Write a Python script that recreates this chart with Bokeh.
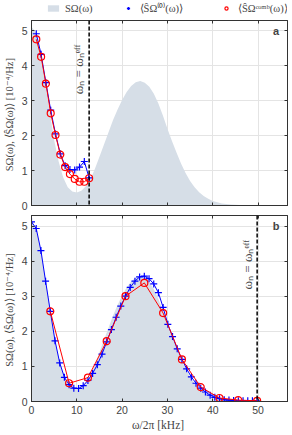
import math
from bokeh.plotting import figure
from bokeh.layouts import column
from bokeh.models import Range1d, Span, Label, Legend, LegendItem, FixedTicker, LinearAxis
from bokeh.embed import file_html
from bokeh.resources import INLINE

# ---- data ----
s_freq = [0, 1, 2, 3, 4, 5, 6, 7, 8, 9, 10, 11, 12, 13, 14, 15, 16, 17, 18, 19,
          20, 21, 22, 23, 24, 25, 26, 27, 28, 29, 30, 31, 32, 33, 34, 35, 36, 37,
          38, 39, 40, 41, 42, 43, 44, 45, 46, 47, 48, 49, 50, 52, 54, 56.5]
s_vals = [5.12, 4.95, 4.35, 3.55, 2.70, 1.88, 1.25, 0.80, 0.52, 0.40, 0.37, 0.42,
          0.55, 0.75, 1.05, 1.40, 1.75, 2.10, 2.45, 2.75, 3.02, 3.25, 3.42, 3.53,
          3.57, 3.52, 3.40, 3.20, 2.92, 2.58, 2.20, 1.85, 1.52, 1.20, 0.93, 0.70,
          0.52, 0.38, 0.27, 0.19, 0.13, 0.09, 0.06, 0.04, 0.03, 0.02, 0.015, 0.01,
          0.01, 0.005, 0.0, 0.0, 0.0, 0.0]

a_freq = [1.06, 2.12, 3.18, 4.24, 5.30, 6.36, 7.42, 8.48, 9.54, 10.60, 11.66, 12.72]
a_blue = [4.92, 4.33, 3.52, 2.73, 2.05, 1.48, 1.14, 1.03, 1.02, 1.10, 1.26, 0.79]
a_red = [4.76, 4.26, 3.49, 2.64, 2.02, 1.46, 1.10, 0.90, 0.76, 0.68, 0.68, 0.78]
a_wn = 12.72

b_blue_freq = [0, 1.04, 2.08, 3.11, 4.15, 5.19, 6.23, 7.26, 8.3, 9.34, 10.38, 11.41,
               12.45, 13.49, 14.53, 15.56, 16.6, 17.64, 18.68, 19.71, 20.75, 21.79,
               22.83, 23.86, 24.9, 25.94, 26.98, 28.01, 29.05, 30.09, 31.13, 32.16,
               33.2, 34.24, 35.28, 36.31, 37.35, 38.39, 39.43, 40.46, 41.5, 42.54,
               43.58, 44.61, 45.65, 46.69, 47.73, 48.76, 49.8]
b_blue = [5.12, 4.93, 4.30, 3.43, 2.57, 1.73, 1.10, 0.69, 0.48, 0.38, 0.37, 0.45,
          0.60, 0.80, 1.05, 1.35, 1.70, 2.05, 2.40, 2.72, 3.00, 3.25, 3.43, 3.55,
          3.57, 3.50, 3.35, 3.10, 2.68, 2.20, 1.85, 1.50, 1.20, 0.93, 0.70, 0.52,
          0.38, 0.27, 0.18, 0.12, 0.08, 0.05, 0.04, 0.03, 0.02, 0.02, 0.02, 0.02, 0.02]
b_red_freq = [4.15, 8.3, 12.45, 16.6, 20.75, 24.9, 29.05, 33.2, 37.35, 41.5, 45.65, 49.8]
b_red = [2.57, 0.52, 0.68, 1.72, 3.00, 3.38, 2.52, 1.20, 0.41, 0.10, 0.04, 0.02]
b_wn = 49.8

x_ticks = [0, 10, 20, 30, 40, 50]
y_ticks = [0, 1, 2, 3, 4, 5]

FILL = "#d6dee7"
BLUE = "#0000ff"
RED = "#ff0000"
AXC = "#333333"
SERIF = "Liberation Serif"
SANS = "Liberation Sans"
YLABEL = "SΩ(ω),  ⟨ŜΩ(ω)⟩  [10⁻⁴/Hz]"


def blank_axis(ticks):
    ax = LinearAxis(ticker=FixedTicker(ticks=ticks),
                    major_label_overrides={t: "" for t in ticks},
                    major_label_standoff=0, major_tick_in=3, major_tick_out=0,
                    minor_tick_line_color=None, axis_line_color=AXC,
                    major_tick_line_color=AXC, major_label_text_font_size="1px")
    return ax


def make_panel(height, top, bottom, show_x):
    p = figure(width=292, height=height, output_backend="svg", toolbar_location=None,
               x_range=Range1d(0, 56.5), y_range=Range1d(0, 5.3),
               x_axis_location="below" if show_x else None,
               min_border_left=29, min_border_right=5,
               min_border_top=top, min_border_bottom=bottom)
    p.background_fill_color = "white"
    p.border_fill_color = "white"
    p.outline_line_color = AXC
    p.outline_line_width = 1
    p.xgrid.ticker = FixedTicker(ticks=x_ticks)
    p.ygrid.ticker = FixedTicker(ticks=y_ticks)
    p.grid.grid_line_color = "#e4e4e4"
    p.grid.grid_line_width = 1
    p.grid.level = "image"
    for ax in p.yaxis:
        ax.ticker = FixedTicker(ticks=y_ticks)
        ax.major_tick_in = 3
        ax.major_tick_out = 0
        ax.minor_tick_line_color = None
        ax.major_label_text_font = SANS
        ax.major_label_text_font_size = "10.5px"
        ax.major_label_standoff = 4
        ax.axis_line_color = AXC
        ax.major_tick_line_color = AXC
        ax.axis_label = YLABEL
        ax.axis_label_text_font = SERIF
        ax.axis_label_text_font_style = "normal"
        ax.axis_label_text_font_size = "10.5px"
        ax.axis_label_standoff = 4
    if show_x:
        for ax in p.xaxis:
            ax.ticker = FixedTicker(ticks=x_ticks)
            ax.major_tick_in = 3
            ax.major_tick_out = 0
            ax.minor_tick_line_color = None
            ax.major_label_text_font = SANS
            ax.major_label_text_font_size = "10.5px"
            ax.major_label_standoff = 4
            ax.axis_line_color = AXC
            ax.major_tick_line_color = AXC
            ax.axis_label = "ω/2π  [kHz]"
            ax.axis_label_text_font = SERIF
            ax.axis_label_text_font_style = "normal"
            ax.axis_label_text_font_size = "11.5px"
            ax.axis_label_standoff = 2
    else:
        p.add_layout(blank_axis(x_ticks), "below")
    p.add_layout(blank_axis(x_ticks), "above")
    p.add_layout(blank_axis(y_ticks), "right")
    return p


# legend strip (its own small figure)
pl = figure(width=292, height=18, output_backend="svg", toolbar_location=None,
            x_range=Range1d(0, 1), y_range=Range1d(0, 1),
            min_border_left=0, min_border_right=0,
            min_border_top=0, min_border_bottom=0)
pl.axis.visible = False
pl.grid.visible = False
pl.outline_line_color = None
leg_area = pl.varea(x=[-5, -4], y1=[-5, -5], y2=[-4, -4], fill_color=FILL)
leg_blue = pl.scatter(x=[-5], y=[-5], marker="cross", size=8, line_color=BLUE, line_width=1.5)
leg_red = pl.scatter(x=[-5], y=[-5], marker="circle", size=7, line_color=RED,
                     fill_color=None, line_width=1.2)
legend = Legend(items=[LegendItem(label="SΩ(ω)", renderers=[leg_area]),
                       LegendItem(label="⟨ŜΩ⁽⁰⁾(ω)⟩\u2002 ", renderers=[leg_blue]),
                       LegendItem(label="⟨ŜΩᶜᵒᵐᵇ(ω)⟩", renderers=[leg_red])],
                orientation="horizontal", location=(15, 3),
                border_line_color=None, background_fill_alpha=0,
                label_text_font=SERIF, label_text_font_size="10.5px",
                glyph_width=14, glyph_height=8, label_standoff=5,
                spacing=28, padding=0, margin=0, label_height=12)
pl.add_layout(legend, "center")

pa = make_panel(192, 2, 5, False)
pb = make_panel(225, 5, 34, True)

# panel a
pa.varea(x=s_freq, y1=0, y2=s_vals, fill_color=FILL)
pa.line(a_freq, a_blue, line_color=BLUE, line_width=1)
pa.scatter(a_freq, a_blue, marker="cross", size=7, line_color=BLUE, line_width=1.2)
pa.line(a_freq, a_red, line_color=RED, line_width=1)
pa.scatter(a_freq, a_red, marker="circle", size=7, line_color=RED,
           fill_color=None, line_width=1.2)
pa.add_layout(Span(location=a_wn, dimension="height", line_color="black",
                   line_dash="4 2", line_width=1.5))
pa.add_layout(Label(x=10.3, y=3.9, text="ωₙ = ωₙᵉᶠᶠ", angle=math.pi / 2,
                    text_align="center", text_baseline="middle",
                    text_font=SERIF, text_font_size="13px"))
pa.add_layout(Label(x=54.0, y=5.0, text="a", text_align="center", text_baseline="middle",
                    text_font=SANS, text_font_style="bold", text_font_size="11px"))

# panel b
pb.varea(x=s_freq, y1=0, y2=s_vals, fill_color=FILL)
pb.line(b_blue_freq, b_blue, line_color=BLUE, line_width=1)
pb.scatter(b_blue_freq, b_blue, marker="cross", size=7, line_color=BLUE, line_width=1.2)
pb.line(b_red_freq, b_red, line_color=RED, line_width=1)
pb.scatter(b_red_freq, b_red, marker="circle", size=7, line_color=RED,
           fill_color=None, line_width=1.2)
pb.add_layout(Span(location=b_wn, dimension="height", line_color="black",
                   line_dash="4 2", line_width=1.5))
pb.add_layout(Label(x=47.6, y=3.9, text="ωₙ = ωₙᵉᶠᶠ", angle=math.pi / 2,
                    text_align="center", text_baseline="middle",
                    text_font=SERIF, text_font_size="13px"))
pb.add_layout(Label(x=54.0, y=5.0, text="b", text_align="center", text_baseline="middle",
                    text_font=SANS, text_font_style="bold", text_font_size="11px"))

layout = column(pl, pa, pb, spacing=0)
open("out.html", "w").write(file_html(layout, INLINE))
